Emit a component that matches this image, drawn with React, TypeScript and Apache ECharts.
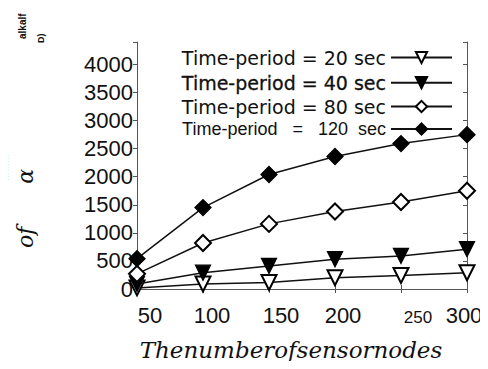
import React, { useEffect, useRef } from "react";
import * as echarts from "echarts";

const xValues = [50, 100, 150, 200, 250, 300];
const xTickLabels = ["50", "100", "150", "200", "250", "300"];
const yTickLabels = ["0", "500", "1000", "1500", "2000", "2500", "3000", "3500", "4000"];
const seriesNames = [
  "Time-period = 20 sec",
  "Time-period = 40 sec",
  "Time-period = 80 sec",
  "Time-period   =   120  sec",
];
const s20 = [20, 90, 115, 200, 240, 290];
const s40 = [90, 290, 410, 530, 590, 710];
const s80 = [270, 820, 1160, 1380, 1550, 1750];
const s120 = [540, 1450, 2040, 2360, 2590, 2750];

const SANS = "'Liberation Sans', Arial, sans-serif";
const DSANS = "'DejaVu Sans', sans-serif";
const SERIF = "'DejaVu Serif', 'Liberation Serif', serif";

const labelShift: Record<string, string> = {
  "50": "p26",
  "100": "p18",
  "150": "p24",
  "200": "p16",
  "250": "q34",
  "300": "n6",
};

function nameAxis(offset: number, name: string, nameGap: number, fontSize: number) {
  return {
    type: "value",
    min: 0,
    max: 4400,
    position: "left",
    offset,
    name,
    nameLocation: "end",
    nameRotate: 90,
    nameGap,
    nameTextStyle: { fontFamily: SANS, fontWeight: "bold", fontSize, color: "#111" },
    axisLine: { show: false },
    axisTick: { show: false },
    axisLabel: { show: false },
    splitLine: { show: false },
  };
}

export default function App() {
  const ref = useRef<HTMLDivElement>(null);
  useEffect(() => {
    if (!ref.current) return;
    const chart = echarts.init(ref.current, undefined, { renderer: "svg" });
    const toPairs = (arr: number[]) => xValues.map((x, i) => [x, arr[i]]);
    const symbols = [
      { symbol: "emptyTriangle", rotate: 180, size: 15 },
      { symbol: "triangle", rotate: 180, size: 15 },
      { symbol: "emptyDiamond", rotate: 0, size: 16 },
      { symbol: "diamond", rotate: 0, size: 16 },
    ];
    const datas = [s20, s40, s80, s120];
    const legendTops = [48, 73, 97, 120];
    const legendText = [
      { fontFamily: DSANS, fontSize: 19, textBorderWidth: 0 },
      { fontFamily: DSANS, fontSize: 19, textBorderWidth: 0.3 },
      { fontFamily: DSANS, fontSize: 19, textBorderWidth: 0 },
      { fontFamily: SANS, fontSize: 18, textBorderWidth: 0 },
    ];
    const option: any = {
      animation: false,
      backgroundColor: "#fff",
      grid: { left: 137, right: 21, top: 42, bottom: 80 },
      legend: seriesNames.map((n, i) => ({
        data: [n],
        right: 35,
        top: legendTops[i],
        align: "right",
        padding: 0,
        itemWidth: 61,
        itemHeight: 14,
        textStyle: {
          fontFamily: legendText[i].fontFamily,
          color: "#111",
          fontSize: legendText[i].fontSize,
          textBorderColor: "#111",
          textBorderWidth: legendText[i].textBorderWidth,
        },
        selectedMode: false,
      })),
      xAxis: [
        {
          type: "value",
          min: 50,
          max: 300,
          interval: 50,
          position: "bottom",
          axisLine: { show: true, lineStyle: { color: "#555", width: 1 } },
          axisTick: { show: true, inside: true, length: 4, lineStyle: { color: "#555" } },
          splitLine: { show: false },
          axisLabel: {
            margin: 15,
            color: "#111",
            fontFamily: SANS,
            fontSize: 22,
            formatter: (v: number) => {
              const s = String(v);
              if (!xTickLabels.includes(s)) return "";
              return `{${labelShift[s]}|${s}}`;
            },
            rich: {
              p26: { fontSize: 22, fontFamily: SANS, color: "#111", padding: [0, 0, 0, 26] },
              p18: { fontSize: 22, fontFamily: SANS, color: "#111", padding: [0, 0, 0, 18] },
              p24: { fontSize: 22, fontFamily: SANS, color: "#111", padding: [0, 0, 0, 24] },
              p16: { fontSize: 22, fontFamily: SANS, color: "#111", padding: [0, 0, 0, 16] },
              q34: { fontSize: 17, fontFamily: SANS, color: "#111", padding: [5, 0, 0, 34] },
              n6: { fontSize: 22, fontFamily: SANS, color: "#111", padding: [0, 6, 0, 0] },
            },
          },
          name: "Thenumberofsensornodes",
          nameLocation: "middle",
          nameGap: 49,
          nameTextStyle: {
            fontFamily: SERIF,
            fontStyle: "italic",
            fontSize: 23,
            color: "#111",
            padding: [0, 22, 0, 0],
          },
        },
        {
          type: "value",
          min: 50,
          max: 300,
          interval: 50,
          position: "top",
          axisLine: { show: true, lineStyle: { color: "#555", width: 1 } },
          axisTick: { show: true, inside: true, length: 4, lineStyle: { color: "#555" } },
          axisLabel: { show: false },
          splitLine: { show: false },
        },
      ],
      yAxis: [
        {
          type: "value",
          min: 0,
          max: 4400,
          interval: 500,
          position: "left",
          axisLine: { show: true, lineStyle: { color: "#555", width: 1 } },
          axisTick: { show: true, inside: false, length: 4, lineStyle: { color: "#555" } },
          splitLine: { show: false },
          axisLabel: {
            margin: 4,
            color: "#111",
            fontFamily: SANS,
            fontSize: 22,
            formatter: (v: number) => (yTickLabels.includes(String(v)) ? String(v) : ""),
          },
          name: "{a|of}{sp|}{b|\u03b1}",
          nameLocation: "middle",
          nameRotate: 90,
          nameGap: 101,
          nameTextStyle: {
            padding: [0, 86, 0, 0],
            rich: {
              a: { fontFamily: SERIF, fontStyle: "italic", fontSize: 22, color: "#111" },
              sp: { width: 43 },
              b: { fontFamily: SERIF, fontStyle: "italic", fontSize: 22, color: "#111" },
            },
          },
        },
        {
          type: "value",
          min: 0,
          max: 4400,
          interval: 500,
          position: "right",
          axisLine: { show: true, lineStyle: { color: "#555", width: 1 } },
          axisTick: { show: true, inside: true, length: 4, lineStyle: { color: "#555" } },
          axisLabel: { show: false },
          splitLine: { show: false },
        },
        nameAxis(115, "alkalf", 3, 10),
        nameAxis(96, "D)", -1, 9),
      ],
      series: seriesNames.map((n, i) => ({
        name: n,
        type: "line",
        xAxisIndex: 0,
        yAxisIndex: 0,
        data: toPairs(datas[i]),
        symbol: symbols[i].symbol,
        symbolRotate: symbols[i].rotate,
        symbolSize: symbols[i].size,
        showAllSymbol: true,
        lineStyle: { color: "#111", width: 1.5 },
        itemStyle: { color: "#000", borderColor: "#000", borderWidth: 1.3 },
        z: 2 + i,
      })),
      graphic: [
        {
          type: "line",
          shape: { x1: 8, y1: 155, x2: 8, y2: 180 },
          style: { stroke: "#9ee", lineWidth: 1, lineDash: [1, 2] },
        },
      ],
    };
    chart.setOption(option);
    return () => chart.dispose();
  }, []);
  return <div ref={ref} style={{ width: 488, height: 369, margin: -8 }} />;
}
